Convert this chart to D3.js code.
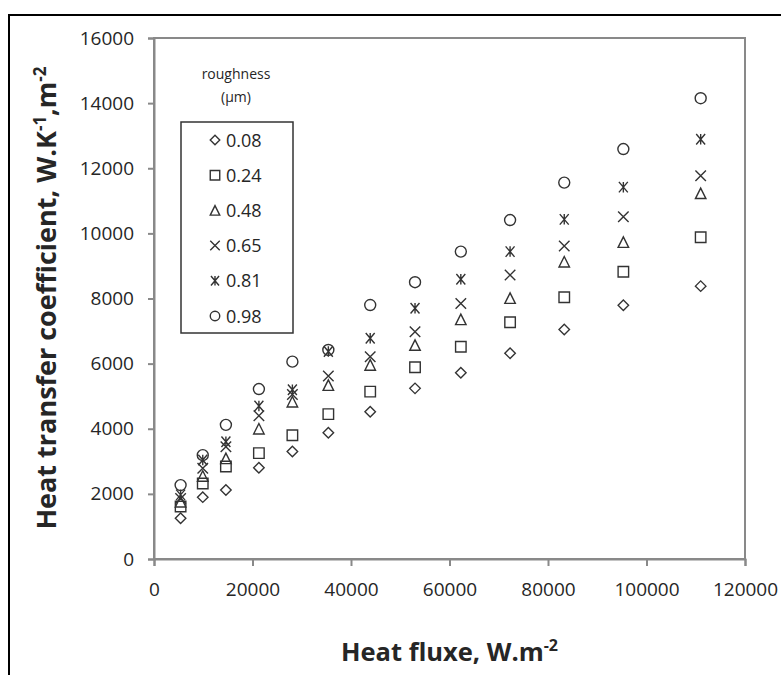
<!DOCTYPE html>
<html lang="en">
<head>
<meta charset="utf-8">
<title>Heat transfer coefficient vs heat flux</title>
<style>
  * { margin: 0; padding: 0; box-sizing: border-box; }
  body { background: #fff; overflow: hidden; }
  svg { display: block; }
  text { font-family: "Open Sans", sans-serif; fill: #262626; }
</style>
</head>
<body>
<svg id="chart" width="781" height="675"></svg>
<script src="https://cdnjs.cloudflare.com/ajax/libs/d3/7.8.5/d3.min.js"></script>
<script>
// heat flux (W.m-2) for each measuring point
const heatFlux = [5400, 9900, 14600, 21300, 28100, 35400, 43900, 53000, 62300, 72300, 83300, 95300, 111000];

// heat transfer coefficient per roughness (um)
const r008 = [1250, 1900, 2120, 2800, 3300, 3880, 4520, 5240, 5720, 6320, 7050, 7790, 8380];
const r024 = [1610, 2320, 2840, 3250, 3800, 4450, 5140, 5890, 6520, 7270, 8040, 8820, 9880];
const r048 = [1760, 2550, 3090, 4000, 4830, 5340, 5960, 6570, 7360, 8010, 9130, 9730, 11230];
const r065 = [1860, 2790, 3450, 4400, 5050, 5620, 6210, 6980, 7850, 8720, 9610, 10510, 11770];
const r081 = [1970, 3040, 3600, 4700, 5200, 6370, 6780, 7700, 8590, 9440, 10430, 11420, 12890];
const r098 = [2270, 3190, 4120, 5220, 6060, 6420, 7800, 8500, 9440, 10410, 11560, 12590, 14150];

const roughness = ["0.08", "0.24", "0.48", "0.65", "0.81", "0.98"];
const shapes = ["diamond", "square", "triangle", "cross", "star", "circle"];
const seriesValues = [r008, r024, r048, r065, r081, r098];

const xTicks = [0, 20000, 40000, 60000, 80000, 100000, 120000];
const yTicks = [0, 2000, 4000, 6000, 8000, 10000, 12000, 14000, 16000];

const svg = d3.select("#chart");
const plot = { left: 154, top: 38, right: 745, bottom: 559 };

const x = d3.scaleLinear().domain([0, 120000]).range([plot.left, plot.right]);
const y = d3.scaleLinear().domain([0, 16000]).range([plot.bottom, plot.top]);

// marker paths, centred on 0,0
function markerPath(shape, s) {
  const h = s / 2;
  switch (shape) {
    case "diamond": return `M0,${-h}L${h},0L0,${h}L${-h},0Z`;
    case "square": return `M${-h},${-h}H${h}V${h}H${-h}Z`;
    case "triangle": return `M0,${-h}L${h},${h}H${-h}Z`;
    case "cross": return `M${-h},${-h}L${h},${h}M${h},${-h}L${-h},${h}`;
    case "star": return `M${-h*0.85},${-h}L${h*0.85},${h}M${h*0.85},${-h}L${-h*0.85},${h}M0,${-h}V${h}`;
    case "circle": return d3.arc()({ innerRadius: 0, outerRadius: h, startAngle: 0, endAngle: 2 * Math.PI });
  }
}

// outer frame (runs off the right and bottom edges)
svg.append("path")
  .attr("d", "M9,680V15H790")
  .attr("fill", "none")
  .attr("stroke", "#000")
  .attr("stroke-width", 2);

// plot area box
svg.append("rect")
  .attr("x", plot.left).attr("y", plot.top)
  .attr("width", plot.right - plot.left).attr("height", plot.bottom - plot.top)
  .attr("fill", "none")
  .attr("stroke", "#898989")
  .attr("stroke-width", 2);

// axes
const xAxis = svg.append("g")
  .attr("transform", `translate(0,${plot.bottom})`)
  .call(d3.axisBottom(x).tickValues(xTicks).tickFormat(d3.format("d")).tickSize(7).tickPadding(17));
const yAxis = svg.append("g")
  .attr("transform", `translate(${plot.left},0)`)
  .call(d3.axisLeft(y).tickValues(yTicks).tickFormat(d3.format("d")).tickSize(6).tickPadding(14));

[xAxis, yAxis].forEach(a => {
  a.select(".domain").attr("stroke", "#898989").attr("stroke-width", 2);
  a.selectAll(".tick line").attr("stroke", "#898989").attr("stroke-width", 2);
  a.selectAll(".tick text").attr("font-size", 19).attr("fill", "#222").attr("font-family", "Open Sans, sans-serif");
});

// data points
shapes.forEach((shape, si) => {
  svg.append("g").selectAll("path")
    .data(seriesValues[si].map((v, i) => [heatFlux[i], v]))
    .join("path")
    .attr("transform", d => `translate(${x(d[0])},${y(d[1])})`)
    .attr("d", markerPath(shape, shape === "circle" ? 11 : 10.5))
    .attr("fill", "none")
    .attr("stroke", "#333")
    .attr("stroke-width", 1.4);
});

// legend
const legend = svg.append("g");
legend.append("text").attr("x", 236).attr("y", 79).attr("text-anchor", "middle")
  .attr("font-size", 14).text("roughness");
legend.append("text").attr("x", 236).attr("y", 102).attr("text-anchor", "middle")
  .attr("font-size", 14).text("(µm)");
legend.append("rect")
  .attr("x", 181).attr("y", 122).attr("width", 112).attr("height", 211)
  .attr("fill", "#fff").attr("stroke", "#333").attr("stroke-width", 1.5);
roughness.forEach((r, i) => {
  const cy = 140 + i * 35.2;
  legend.append("path")
    .attr("transform", `translate(215,${cy})`)
    .attr("d", markerPath(shapes[i], 9.5))
    .attr("fill", "none").attr("stroke", "#333").attr("stroke-width", 1.4);
  legend.append("text").attr("x", 226).attr("y", cy + 6.5)
    .attr("font-size", 18).text(r);
});

// axis titles
const xTitle = svg.append("text")
  .attr("x", (plot.left + plot.right) / 2).attr("y", 661)
  .attr("text-anchor", "middle").attr("font-size", 25.5).attr("font-weight", 700)
  .attr("fill", "#111");
xTitle.append("tspan").text("Heat fluxe, W.m");
xTitle.append("tspan").attr("dy", -10).attr("font-size", 16).text("-2");

const yTitle = svg.append("text")
  .attr("transform", "translate(56,298) rotate(-90)")
  .attr("text-anchor", "middle").attr("font-size", 27).attr("font-weight", 700)
  .attr("fill", "#111");
yTitle.append("tspan").text("Heat transfer coefficient, W.K");
yTitle.append("tspan").attr("dy", -10).attr("font-size", 17).text("-1");
yTitle.append("tspan").attr("dy", 10).text(",m");
yTitle.append("tspan").attr("dy", -10).attr("font-size", 17).text("-2");
</script>
</body>
</html>
